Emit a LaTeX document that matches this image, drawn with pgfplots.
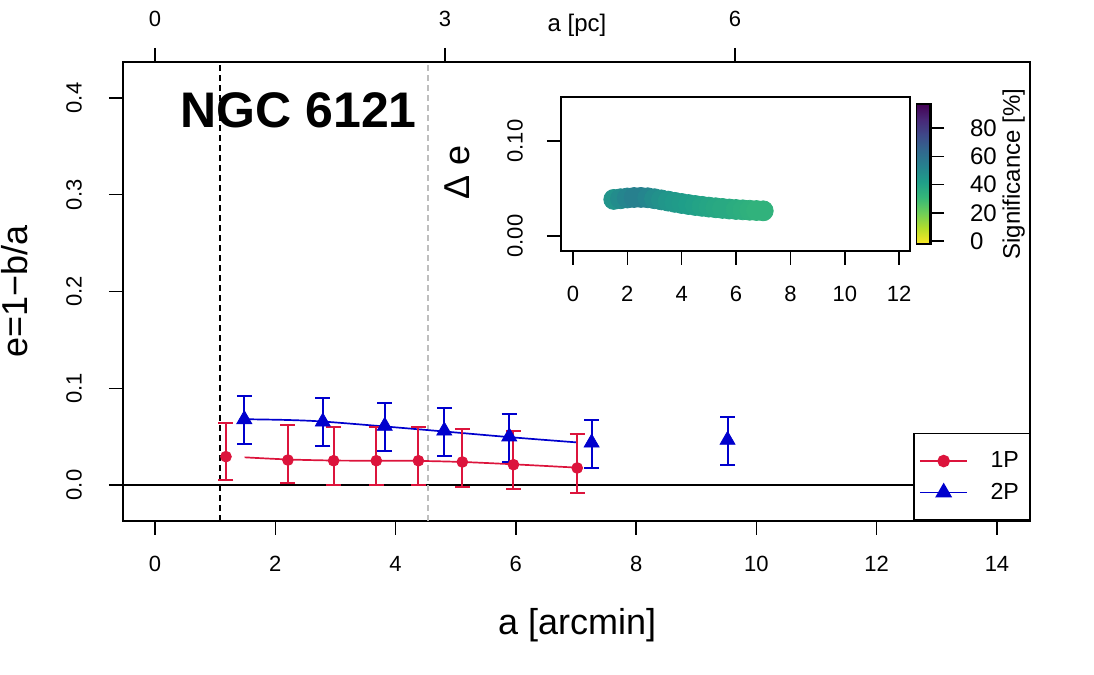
\documentclass[border=0pt]{standalone}
\usepackage{fontspec}
\setmainfont{Liberation Sans}
\usepackage{pgfplots}
\usepackage{pgfplotstable}
\pgfplotsset{compat=1.18}

\definecolor{onep}{RGB}{220,20,60}
\definecolor{twop}{RGB}{0,0,205}
\definecolor{refgray}{RGB}{190,190,190}

\pgfplotsset{
  colormap={viridisrev}{rgb255=(253,231,37) rgb255=(181,222,43) rgb255=(110,206,88)
    rgb255=(53,183,121) rgb255=(31,158,137) rgb255=(38,130,142) rgb255=(49,104,142)
    rgb255=(62,73,137) rgb255=(72,40,120) rgb255=(68,1,84)},
  rstyle/.style={
    scale only axis,
    axis line style={line width=0.75pt},
    every tick/.style={black, line width=0.75pt},
    tick align=outside,
    major tick length=7pt,
    /pgf/number format/assume math mode=true,
    tick label style={font=\fontsize{11}{13}\selectfont},
  },
  legend image code/.code={
    \draw[mark repeat=2, mark phase=2, #1]
      plot coordinates {(0pt,0pt) (11.85pt,0pt) (23.7pt,0pt)};
  },
}

% ellipticity profiles: semi-major axis [arcmin], e, upper and lower errors
\pgfplotstableread{
a     e       ep      em
1.18  0.0293  0.0351  0.0241
2.21  0.0258  0.0359  0.0241
2.97  0.0251  0.0345  0.0254
3.68  0.0251  0.0345  0.0254
4.38  0.0251  0.0345  0.0254
5.11  0.0238  0.0344  0.0255
5.96  0.0210  0.0345  0.0255
7.02  0.0176  0.0351  0.0256
}\onepdata

\pgfplotstableread{
a     e       ep      em
1.485 0.0679  0.0245  0.0252
2.79  0.0654  0.0245  0.0254
3.82  0.0610  0.0237  0.0262
4.81  0.0561  0.0235  0.0265
5.89  0.0500  0.0237  0.0259
7.26  0.0437  0.0238  0.0258
9.52  0.0465  0.0241  0.0258
}\twopdata

% smoothed profiles over the common radial range
\pgfplotstableread{
a     e
1.49  0.0286
2.21  0.0264
2.97  0.0253
3.68  0.0251
4.38  0.0249
5.11  0.0238
5.96  0.0214
7.00  0.0180
}\onepfit

\pgfplotstableread{
a     e
1.49  0.0680
2.20  0.0672
2.79  0.0656
3.82  0.0605
4.81  0.0553
5.89  0.0495
7.00  0.0441
}\twopfit

% difference of the smoothed profiles and its significance [%]
\pgfplotstableread{
a     de      sig
1.50  0.0385  46
1.75  0.0392  49
2.00  0.0400  52
2.25  0.0405  54
2.50  0.0406  54
2.75  0.0402  52
3.00  0.0392  49
3.25  0.0380  47
3.50  0.0367  45
3.75  0.0354  44
4.00  0.0342  43
4.25  0.0331  42
4.50  0.0321  41
4.75  0.0312  40
5.00  0.0304  39
5.25  0.0297  38
5.50  0.0290  37
5.75  0.0284  37
6.00  0.0279  36
6.25  0.0275  35
6.50  0.0271  34
6.75  0.0268  33
7.00  0.0265  33
}\deltadata

\begin{document}
\begin{tikzpicture}
\useasboundingbox (0,0) rectangle (547pt,337.5pt);

% ---------------- main panel ----------------
\begin{axis}[
  rstyle,
  at={(61.5pt,77pt)}, anchor=south west,
  width=453.5pt, height=229.5pt,
  xmin=-0.532, xmax=14.549,
  ymin=-0.0372, ymax=0.4372,
  xtick={0,2,...,14}, ytick={0,0.1,0.2,0.3,0.4},
  xtick pos=bottom, ytick pos=left,
  xticklabel style={yshift=-7pt},
  yticklabel style={rotate=90, anchor=south, yshift=10pt,
    /pgf/number format/fixed, /pgf/number format/precision=1,
    /pgf/number format/fixed zerofill},
  xlabel={a [arcmin]},
  ylabel={e=1−b/a},
  xlabel style={font=\fontsize{18}{20}\selectfont,
    at={(axis description cs:0.5006,-0.2266)}, anchor=center},
  ylabel style={font=\fontsize{18}{20}\selectfont,
    at={(axis description cs:-0.119,0.5)}, anchor=center},
  legend style={at={(1,0)}, anchor=south east, draw=black, line width=0.75pt,
    fill=white, font=\fontsize{11.6}{13}\selectfont,
    inner xsep=2.65pt, inner ysep=9.1pt, row sep=6.15pt,
    nodes={inner sep=0pt},
    /tikz/every odd column/.append style={column sep=11.15pt}},
  legend cell align=left,
]
\draw[black, line width=0.6pt] (axis cs:-0.532,0) -- (axis cs:14.549,0);
\draw[black, line width=0.6pt, dash pattern=on 3pt off 2pt]
  (axis cs:1.081,-0.0372) -- (axis cs:1.081,0.4372);
\draw[refgray, line width=0.6pt, dash pattern=on 3pt off 2pt]
  (axis cs:4.54,-0.0372) -- (axis cs:4.54,0.4372);

\addlegendimage{onep, line width=0.9pt, mark=*, mark size=2.7pt, mark options={fill=onep}}
\addlegendentry{1P\rule{2.5pt}{0pt}}
\addlegendimage{twop, line width=0.9pt, mark=triangle*, mark size=4pt, mark options={fill=twop}}
\addlegendentry{2P\rule{2.5pt}{0pt}}

\addplot[forget plot, onep, line width=0.85pt, smooth] table[x=a, y=e] {\onepfit};
\addplot[forget plot, twop, line width=0.85pt, smooth] table[x=a, y=e] {\twopfit};

\addplot[forget plot, only marks, color=onep, mark=*, mark size=2.7pt,
  mark options={fill=onep, draw=onep},
  error bars/.cd, y dir=both, y explicit,
  error bar style={line width=1pt, color=onep, solid},
  error mark options={rotate=90, mark size=3.75pt, line width=1pt, color=onep}]
  table[x=a, y=e, y error plus=ep, y error minus=em] {\onepdata};
\addplot[forget plot, only marks, color=twop, mark=triangle*, mark size=4.3pt,
  mark options={fill=twop, draw=twop},
  error bars/.cd, y dir=both, y explicit,
  error bar style={line width=1pt, color=twop, solid},
  error mark options={rotate=90, mark size=3.75pt, line width=1pt, color=twop}]
  table[x=a, y=e, y error plus=ep, y error minus=em] {\twopdata};

\node[font=\fontsize{25}{28}\selectfont\bfseries] at (axis cs:2.39,0.3876) {NGC 6121};
\end{axis}

% ---------------- physical scale on top ----------------
\begin{axis}[
  rstyle,
  at={(61.5pt,77pt)}, anchor=south west,
  width=453.5pt, height=229.5pt,
  xmin=-0.3309, xmax=9.050, ymin=0, ymax=1,
  axis x line*=top, axis y line=none,
  xtick={0,3,6},
  xticklabel style={yshift=7pt},
  xlabel={a [pc]},
  xlabel style={font=\fontsize{12}{14}\selectfont,
    at={(axis description cs:0.5006,1)}, anchor=base, yshift=15.3pt},
]
\end{axis}

% ---------------- inset: difference 2P - 1P ----------------
\begin{axis}[
  rstyle,
  at={(280.5pt,212pt)}, anchor=south west,
  width=174.5pt, height=77pt,
  xmin=-0.442, xmax=12.40,
  ymin=-0.0158, ymax=0.1463,
  xtick={0,2,...,12}, ytick={0,0.1},
  xtick pos=bottom, ytick pos=left,
  xticklabel style={yshift=-7pt},
  yticklabel style={rotate=90, anchor=south, yshift=8.5pt,
    /pgf/number format/fixed, /pgf/number format/precision=2,
    /pgf/number format/fixed zerofill},
  ylabel={Δ e},
  ylabel style={font=\fontsize{18}{20}\selectfont,
    at={(axis description cs:-0.298,0.51)}, anchor=center},
  colormap name=viridisrev,
  point meta min=-2, point meta max=97,
  colorbar,
  colorbar style={
    width=7.15pt, height=70pt,
    at={(parent axis.east)}, anchor=west, xshift=-5.25pt,
    axis line style={line width=0.75pt},
    ytick=\empty,
  },
]
\addplot[scatter, only marks, mark=*, mark size=5pt,
  scatter src=explicit,
  scatter/use mapped color={draw=mapped color, fill=mapped color}]
  table[x=a, y=de, meta=sig] {\deltadata};
\end{axis}

% ---------------- scale of the colour bar ----------------
\begin{axis}[
  rstyle,
  at={(457.85pt,215.5pt)}, anchor=south west,
  width=7.15pt, height=70pt,
  xmin=0, xmax=1, ymin=-2, ymax=97,
  hide x axis,
  axis y line*=right,
  ytick={0,20,40,60,80},
  yticklabel style={font=\fontsize{12}{14}\selectfont, xshift=9.5pt},
  ylabel={Significance [\%]},
  ylabel style={font=\fontsize{12}{14}\selectfont,
    at={(axis description cs:6.85,0.5)}, anchor=center},
]
\end{axis}
\end{tikzpicture}
\end{document}
